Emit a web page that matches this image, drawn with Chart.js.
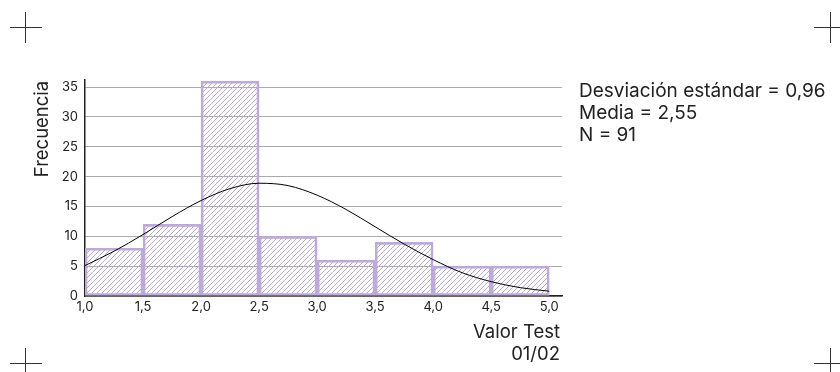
<!DOCTYPE html>
<html>
<head>
<meta charset="utf-8">
<script src="https://cdn.jsdelivr.net/npm/chart.js@4"></script>
<style>
  html, body { margin: 0; padding: 0; background: #fff; }
  #wrap { position: relative; width: 840px; height: 372px; overflow: hidden; font-family: Inter, "Liberation Sans", sans-serif; color: #222; }
  canvas { position: absolute; left: 0; top: 0; }
  .mark { position: absolute; background: #333; }
  .txt { position: absolute; white-space: nowrap; font-size: 18.5px; line-height: 22px; color: #222; }
</style>
</head>
<body>
<div id="wrap">
  <canvas id="c" width="840" height="372"></canvas>
  <div class="mark" style="left:10px;top:27px;width:32px;height:1px"></div>
  <div class="mark" style="left:25px;top:12px;width:1px;height:31px"></div>
  <div class="mark" style="left:814px;top:27px;width:26px;height:1px"></div>
  <div class="mark" style="left:830px;top:12px;width:1px;height:31px"></div>
  <div class="mark" style="left:10px;top:363px;width:32px;height:1px"></div>
  <div class="mark" style="left:25px;top:348px;width:1px;height:24px"></div>
  <div class="mark" style="left:814px;top:363px;width:26px;height:1px"></div>
  <div class="mark" style="left:830px;top:348px;width:1px;height:24px"></div>
  <div class="txt" id="ytitle" style="left:41px;top:129px;transform:translate(-50%,-50%) rotate(-90deg);">Frecuencia</div>
  <div class="txt" id="xtitle" style="right:280px;top:320px;text-align:right;">Valor Test<br>01/02</div>
  <div class="txt" id="stats" style="left:579px;top:80px;font-size:19px;"></div>
</div>
<script>
// ---- data ----
const binCenters = [1.25, 1.75, 2.25, 2.75, 3.25, 3.75, 4.25, 4.75];
const frequencies = [8, 12, 36, 10, 6, 9, 5, 5];
const curveX = [1.0, 1.25, 1.5, 1.75, 2.0, 2.25, 2.5, 2.75, 3.0, 3.25, 3.5, 3.75, 4.0, 4.25, 4.5, 4.75, 5.0];
const curveY = [5.1, 7.5, 10.3, 13.3, 16.0, 18.0, 18.9, 18.5, 16.9, 14.5, 11.6, 8.7, 6.1, 3.9, 2.4, 1.4, 0.8];
const xTicks = [1.0, 1.5, 2.0, 2.5, 3.0, 3.5, 4.0, 4.5, 5.0];
const yTicks = [0, 5, 10, 15, 20, 25, 30, 35];
const statsLines = ["Desviación estándar = 0,96", "Media = 2,55", "N = 91"];

document.getElementById('stats').innerHTML = statsLines.join('<br>');

// hatch pattern
function makeHatch() {
  const s = 5;
  const t = document.createElement('canvas');
  t.width = s; t.height = s;
  const g = t.getContext('2d');
  g.strokeStyle = '#bba8da';
  g.lineWidth = 1;
  g.beginPath();
  g.moveTo(-1, s + 1); g.lineTo(s + 1, -1);
  g.moveTo(-1, 1); g.lineTo(1, -1);
  g.moveTo(s - 1, s + 1); g.lineTo(s + 1, s - 1);
  g.stroke();
  return document.getElementById('c').getContext('2d').createPattern(t, 'repeat');
}

const font = { family: 'Inter, "Liberation Sans", sans-serif', size: 13 };

new Chart(document.getElementById('c'), {
  type: 'bar',
  data: {
    datasets: [
      {
        type: 'line',
        data: curveX.map((x, i) => ({ x: x, y: curveY[i] })),
        borderColor: '#000',
        borderWidth: 1,
        pointRadius: 0,
        cubicInterpolationMode: 'monotone',
        fill: false,
        order: 0
      },
      {
        type: 'bar',
        data: binCenters.map((x, i) => ({ x: x, y: frequencies[i] })),
        backgroundColor: makeHatch(),
        borderColor: '#bcaadb',
        borderWidth: 2,
        borderSkipped: false,
        barPercentage: 1,
        categoryPercentage: 1,
        order: 1
      }
    ]
  },
  options: {
    responsive: false,
    animation: false,
    devicePixelRatio: 1,
    layout: { padding: { left: 0, top: 80, right: 278, bottom: 46 } },
    plugins: { legend: { display: false }, tooltip: { enabled: false } },
    scales: {
      x: {
        type: 'linear',
        offset: false,
        min: 1,
        max: 5.11,
        afterFit: s => { s.height = 30; },
        afterBuildTicks: s => { s.ticks = xTicks.map(v => ({ value: v })); },
        ticks: {
          font: font, color: '#222', padding: 3, maxRotation: 0, autoSkip: false,
          callback: v => Number(v).toFixed(1).replace('.', ',')
        },
        grid: { display: false, drawTicks: false, offset: false },
        border: { display: true, color: '#222', width: 1.5 }
      },
      y: {
        min: 0,
        max: 36.2,
        afterFit: s => { s.width = 85; },
        afterBuildTicks: s => { s.ticks = yTicks.map(v => ({ value: v })); },
        ticks: { font: font, color: '#222', padding: 7 },
        grid: { color: '#aaaaaa', lineWidth: 1, drawTicks: false },
        border: { display: true, color: '#222', width: 1.5 }
      }
    }
  }
});
</script>
</body>
</html>
